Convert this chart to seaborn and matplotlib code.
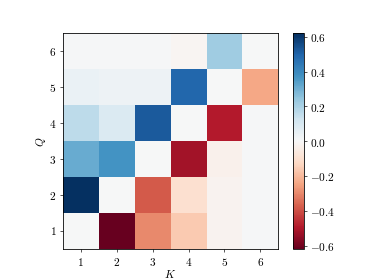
import numpy as np
import pandas as pd
import matplotlib
matplotlib.use("Agg")
import matplotlib.pyplot as plt
import seaborn as sns

K_labels = [1, 2, 3, 4, 5, 6]
Q_labels = [1, 2, 3, 4, 5, 6]
# rows: Q = 1..6, columns: K = 1..6
row_q1 = [0.00, -0.62, -0.30, -0.16, -0.02, 0.005]
row_q2 = [0.62, 0.00, -0.38, -0.10, -0.02, 0.005]
row_q3 = [0.31, 0.37, 0.00, -0.52, -0.03, 0.005]
row_q4 = [0.16, 0.09, 0.52, 0.00, -0.49, 0.005]
row_q5 = [0.04, 0.03, 0.03, 0.49, 0.00, -0.24]
row_q6 = [0.005, 0.005, 0.005, -0.01, 0.22, 0.00]
cbar_ticks = [-0.6, -0.4, -0.2, 0.0, 0.2, 0.4, 0.6]

plt.rcParams['font.family'] = 'serif'
plt.rcParams['font.serif'] = ['cmr10']
plt.rcParams['mathtext.fontset'] = 'cm'
plt.rcParams['axes.formatter.use_mathtext'] = True
plt.rcParams['axes.unicode_minus'] = True

data = pd.DataFrame([row_q1, row_q2, row_q3, row_q4, row_q5, row_q6],
                    index=Q_labels, columns=K_labels)

fig, ax = plt.subplots(figsize=(6.4, 4.8), dpi=58.4)
sns.heatmap(data, ax=ax, cmap="RdBu", vmin=-0.62, vmax=0.62, square=True,
            cbar_kws={"ticks": cbar_ticks})
ax.invert_yaxis()
for s in ax.spines.values():
    s.set_visible(True)
    s.set_linewidth(1.0)
ax.tick_params(axis='both', length=4, width=0.8, labelsize=14)
ax.set_yticklabels([rf'${q}$' for q in Q_labels], rotation=0)
ax.set_xticklabels([rf'${k}$' for k in K_labels], rotation=0)
ax.set_xlabel(r'$K$', fontsize=14, labelpad=1)
ax.set_ylabel(r'$Q$', fontsize=14, labelpad=2)
cb = ax.collections[0].colorbar
cb.outline.set_visible(True)
cb.outline.set_linewidth(1.0)
cb.ax.tick_params(labelsize=14, length=4, width=0.8)
cb.ax.set_yticklabels([rf'${t:.1f}$' for t in cbar_ticks])
fig.savefig("out.png", dpi=58.4)
